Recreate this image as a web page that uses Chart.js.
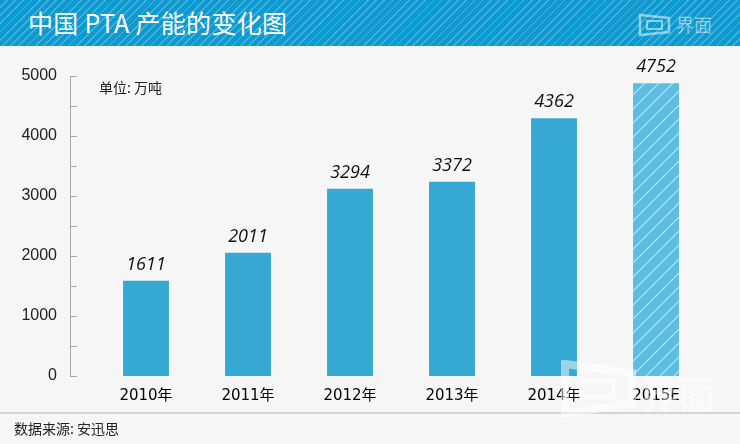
<!DOCTYPE html>
<html>
<head>
<meta charset="utf-8">
<script src="https://cdn.jsdelivr.net/npm/chart.js@4"></script>
<style>
  html, body { margin: 0; padding: 0; background: #f6f6f6; }
  #wrap { position: relative; width: 740px; height: 444px; overflow: hidden; background: #f6f6f6; }
  #myChart { position: absolute; left: 0; top: 0; }
  #header {
    position: absolute; left: 0; top: 0; width: 740px; height: 46px;
    background: repeating-linear-gradient(135deg, #0c9ad0 0px, #0c9ad0 4.6px, #4cb4dc 4.6px, #4cb4dc 5.8px);
  }
  #title {
    position: absolute; left: 28px; top: 7px; color: #fff;
    font: 25px "Noto Sans CJK SC", sans-serif; line-height: 30px; letter-spacing: 0.3px;
  }
  .logo { position: absolute; }
  #unit { position: absolute; left: 99px; top: 78px; font: 14px "Noto Sans CJK SC", sans-serif; color: #222; line-height: 18px; }
  #divider { position: absolute; left: 0; top: 412px; width: 740px; height: 2px; background: #d4d4d4; }
  #source { position: absolute; left: 14px; top: 418px; font: 14px "Noto Sans CJK SC", sans-serif; color: #222; line-height: 20px; }
</style>
</head>
<body>
<div id="wrap">
  <canvas id="myChart" width="740" height="444"></canvas>
  <div id="header">
    <div id="title">中国 PTA 产能的变化图</div>
    <svg class="logo" style="left:638px;top:13px" width="80" height="24">
      <polygon points="2,2 31,5 31,19 2,22" fill="none" stroke="rgba(255,255,255,0.5)" stroke-width="2.5"/>
      <rect x="9" y="8" width="15" height="8" fill="none" stroke="rgba(255,255,255,0.5)" stroke-width="2"/>
      <text x="38" y="19" font-family="Noto Sans CJK SC" font-size="18" fill="rgba(255,255,255,0.5)">界面</text>
    </svg>
  </div>
  <div id="unit">单位: 万吨</div>
  <svg class="logo" style="left:560px;top:360px;z-index:5" width="175" height="58">
    <polygon points="5,4 72,13 72,43 5,54" fill="none" stroke="rgba(255,255,255,0.5)" stroke-width="8"/>
    <rect x="22" y="21" width="32" height="16" fill="none" stroke="rgba(255,255,255,0.5)" stroke-width="5"/>
    <text x="80" y="48" font-family="Noto Sans CJK SC" font-weight="bold" font-size="38" fill="rgba(255,255,255,0.45)">界面</text>
  </svg>
  <div id="divider"></div>
  <div id="source">数据来源: 安迅思</div>
</div>
<script>
// 카테고리와 값
const categories = ["2010年", "2011年", "2012年", "2013年", "2014年", "2015E"];
const barValues = [1588, 2055, 3122, 3238, 4295, 4878];
const valueLabels = ["1611", "2011", "3294", "3372", "4362", "4752"];
const yTicks = [0, 1000, 2000, 3000, 4000, 5000];

// 2015E 막대용 빗금 패턴
function makeStripes() {
  const s = 14;
  const c = document.createElement("canvas");
  c.width = s; c.height = s;
  const p = c.getContext("2d");
  p.fillStyle = "#5cbde1";
  p.fillRect(0, 0, s, s);
  p.strokeStyle = "rgba(255,255,255,0.6)";
  p.lineWidth = 1.2;
  p.beginPath();
  p.moveTo(0, s); p.lineTo(s, 0);
  p.moveTo(-s / 2, s / 2); p.lineTo(s / 2, -s / 2);
  p.moveTo(s / 2, s * 1.5); p.lineTo(s * 1.5, s / 2);
  p.stroke();
  return p.createPattern(c, "repeat");
}

const barColors = categories.map((c, i) => i === categories.length - 1 ? makeStripes() : "#36a8d4");

// 축선과 값 라벨 그리기
const decor = {
  id: "decor",
  afterDatasetsDraw(chart) {
    const ctx = chart.ctx;
    const y = chart.scales.y;
    const ax = 70;
    ctx.save();
    ctx.strokeStyle = "#a8a8a8";
    ctx.lineWidth = 1;
    ctx.beginPath();
    ctx.moveTo(ax + 0.5, y.getPixelForValue(5000));
    ctx.lineTo(ax + 0.5, y.getPixelForValue(0));
    for (let v = 0; v <= 5000; v += 500) {
      const py = Math.round(y.getPixelForValue(v)) + 0.5;
      ctx.moveTo(ax, py);
      ctx.lineTo(ax + 7, py);
    }
    ctx.stroke();

    ctx.fillStyle = "#111";
    ctx.font = 'italic 18px "Open Sans", sans-serif';
    ctx.textAlign = "center";
    ctx.textBaseline = "middle";
    chart.getDatasetMeta(0).data.forEach((bar, i) => {
      ctx.fillText(valueLabels[i], bar.x, bar.y - 16);
    });
    ctx.restore();
  }
};

const ctx = document.getElementById("myChart").getContext("2d");

const chart = new Chart(ctx, {
  type: "bar",
  data: {
    labels: categories,
    datasets: [{
      data: barValues,
      backgroundColor: barColors,
      borderWidth: 0,
      barPercentage: 0.45,
      categoryPercentage: 1
    }]
  },
  options: {
    responsive: false,
    animation: false,
    layout: { padding: { left: 20, right: 33, top: 76, bottom: 0 } },
    plugins: {
      legend: { display: false },
      tooltip: { enabled: false }
    },
    scales: {
      x: {
        grid: { display: false },
        border: { display: false },
        ticks: {
          padding: 3,
          color: "#000",
          font: { family: '"DejaVu Sans", "Noto Sans CJK SC"', size: 15 }
        },
        afterFit(scale) { scale.height = 68; }
      },
      y: {
        min: 0,
        max: 5000,
        grid: { display: false, drawTicks: false },
        border: { display: false },
        afterBuildTicks(scale) { scale.ticks = yTicks.map(v => ({ value: v })); },
        ticks: {
          padding: 38,
          color: "#222",
          font: { family: "Liberation Sans", size: 16 },
          callback: v => String(v)
        },
        afterFit(scale) { scale.width = 75; }
      }
    }
  },
  plugins: [decor]
});
</script>
</body>
</html>
